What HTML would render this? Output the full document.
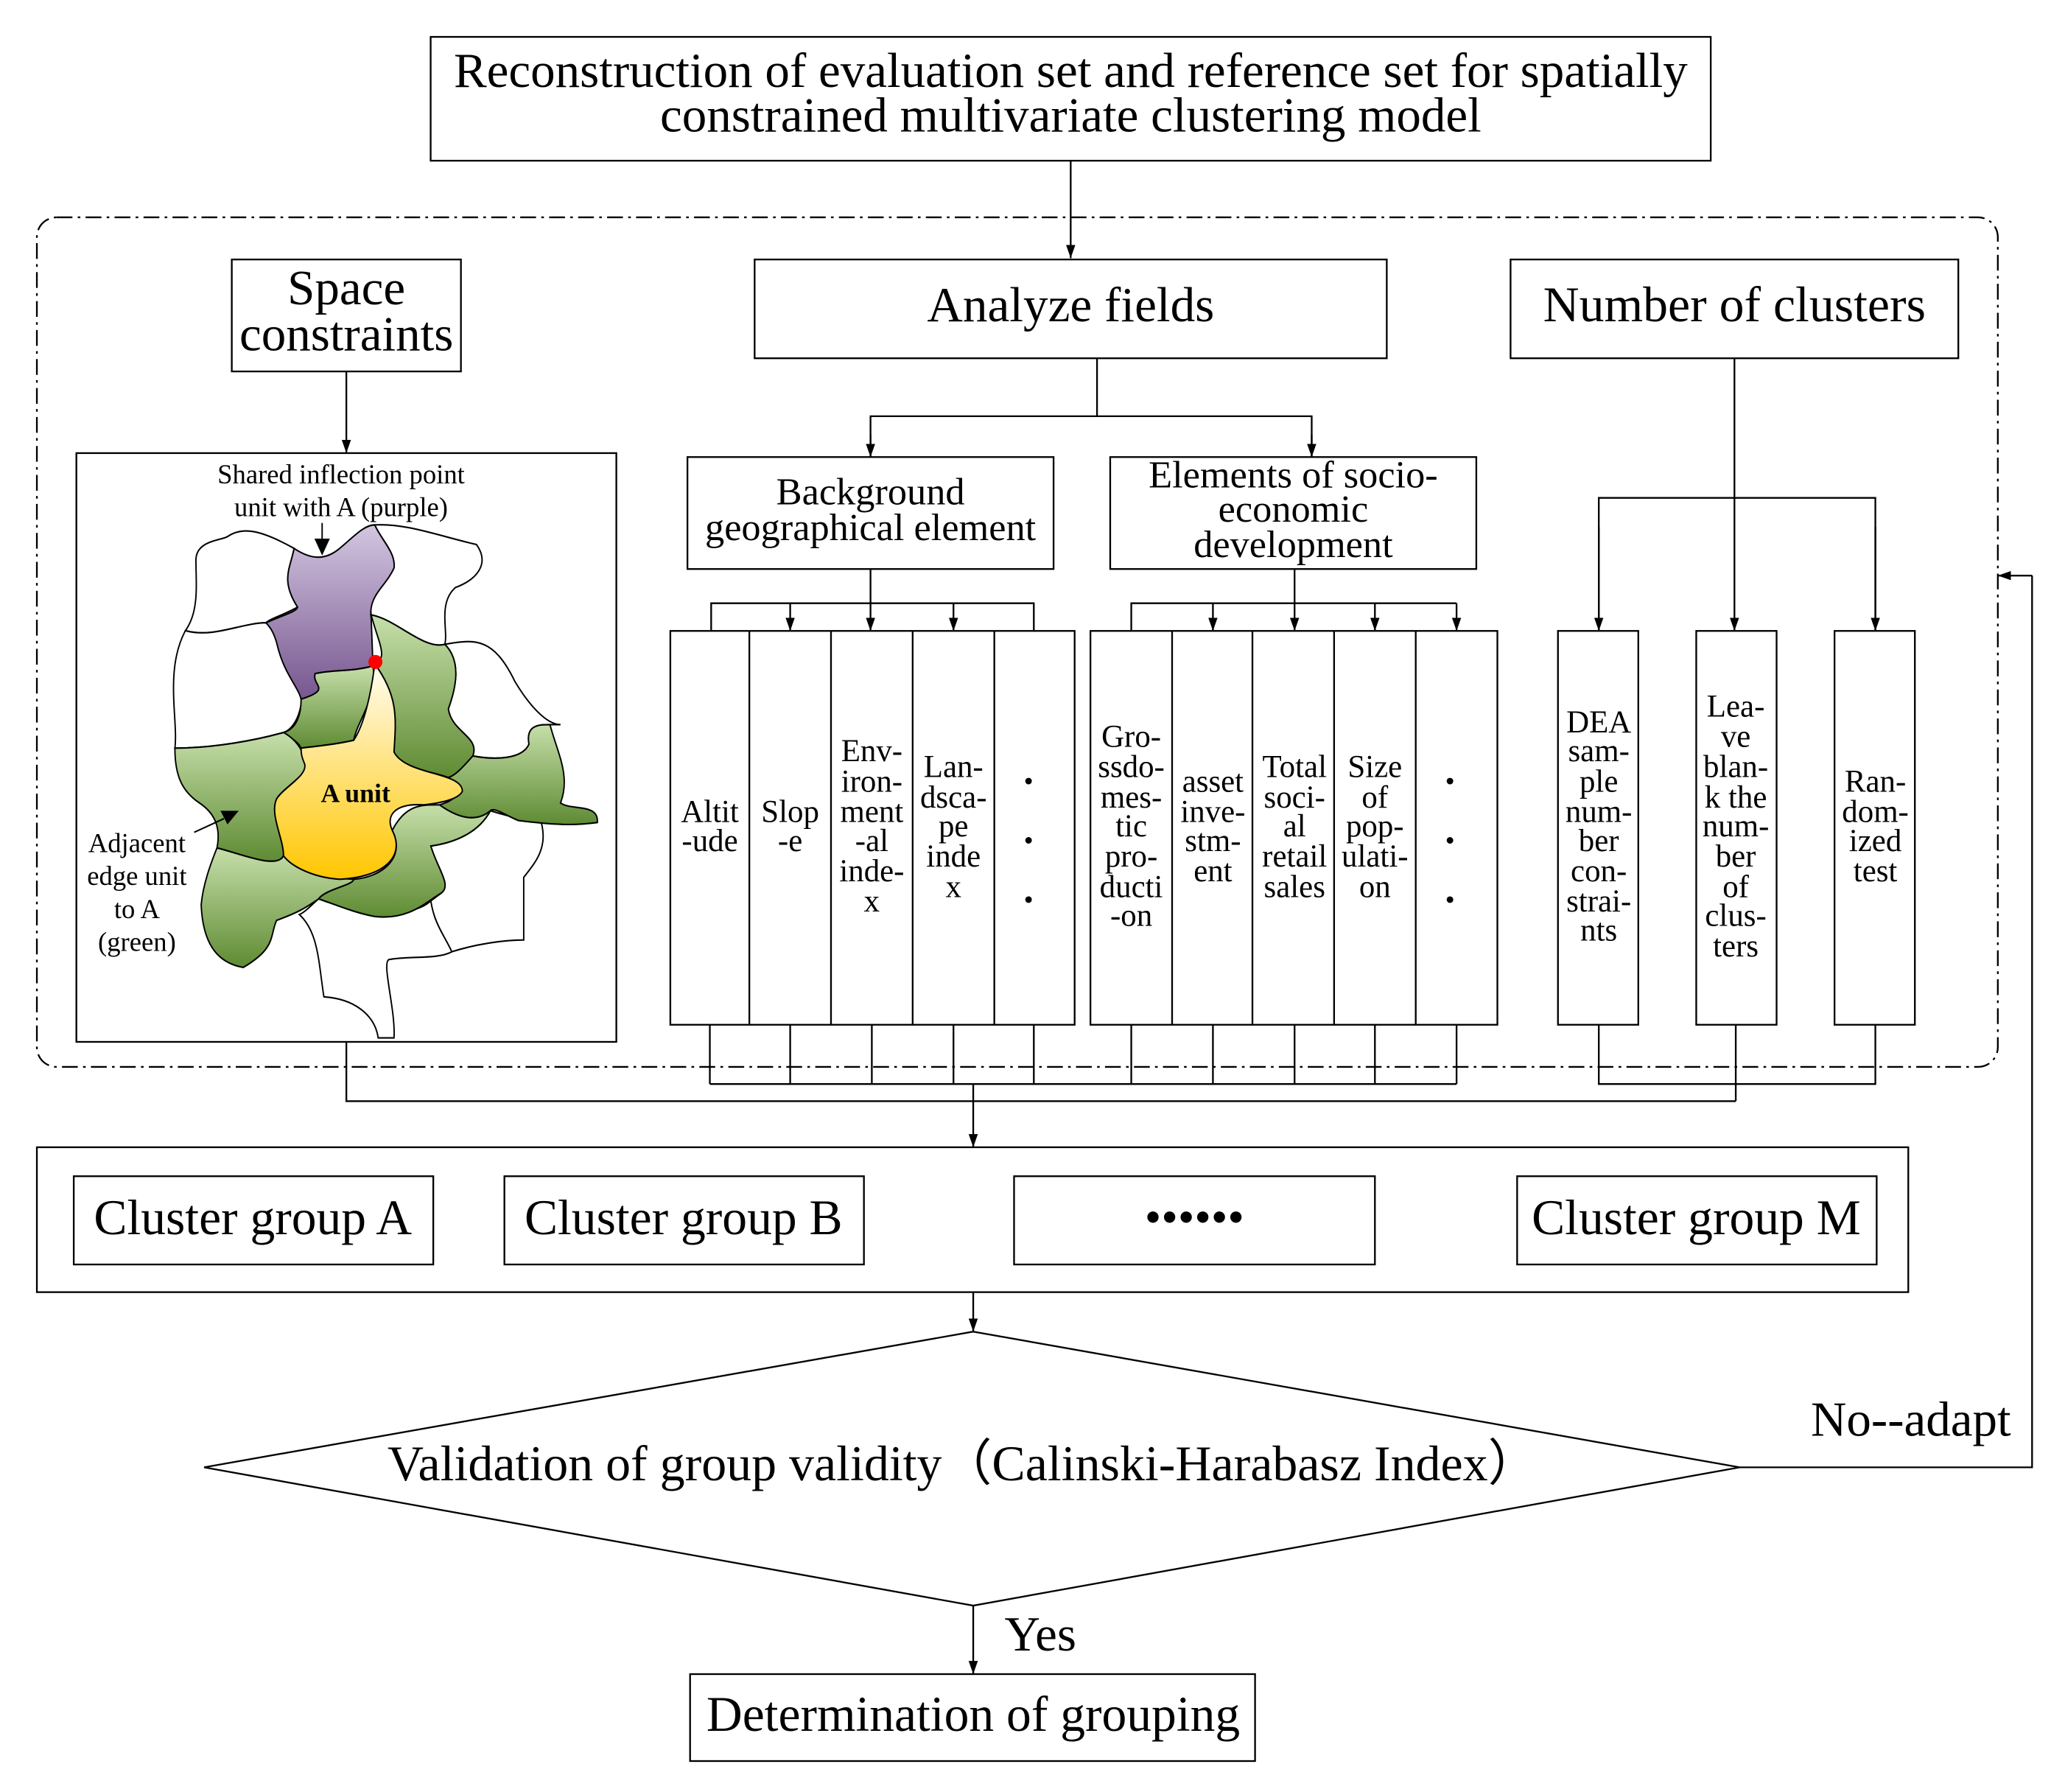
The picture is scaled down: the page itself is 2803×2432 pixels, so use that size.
<!DOCTYPE html>
<html><head><meta charset="utf-8"><style>
html,body{margin:0;padding:0;background:#fff}
svg{display:block}
text{font-family:"Liberation Serif",serif;fill:#000}
</style></head><body>
<svg width="2803" height="2432" viewBox="0 0 1568 1360.5" preserveAspectRatio="none" xmlns="http://www.w3.org/2000/svg">
<defs>
<marker id="ar" viewBox="0 0 10 10" refX="10" refY="5" markerWidth="10" markerHeight="10" markerUnits="userSpaceOnUse" orient="auto"><path d="M0,1.5 L10,5 L0,8.5 Z" fill="#000"/></marker>
<linearGradient id="gg" x1="0" y1="0" x2="0" y2="1"><stop offset="0" stop-color="#c6dfaa"/><stop offset="1" stop-color="#5f8b33"/></linearGradient>
<linearGradient id="gp" x1="0" y1="0" x2="0" y2="1"><stop offset="0" stop-color="#d3c6e0"/><stop offset="1" stop-color="#76568f"/></linearGradient>
<linearGradient id="gy" x1="0" y1="0" x2="0" y2="1"><stop offset="0" stop-color="#fffdf2"/><stop offset="1" stop-color="#ffc600"/></linearGradient>
</defs>
<g fill="none" stroke="#000" stroke-width="1.3">
<rect x="327" y="28" width="972" height="94" fill="#fff"/>
<line x1="813" y1="122" x2="813" y2="196" marker-end="url(#ar)"/>
<rect x="28" y="165" width="1489" height="645" rx="15" stroke-dasharray="12 4 2 4"/>
<rect x="176" y="197" width="174" height="85"/>
<line x1="263" y1="282" x2="263" y2="344" marker-end="url(#ar)"/>
<rect x="58" y="344" width="410" height="447"/>
<rect x="573" y="197" width="480" height="75"/>
<rect x="1147" y="197" width="340" height="75"/>
<polyline points="833,272 833,316"/>
<polyline points="661,347 661,316 996,316 996,347"/>
<line x1="661" y1="330" x2="661" y2="347" marker-end="url(#ar)"/>
<line x1="996" y1="330" x2="996" y2="347" marker-end="url(#ar)"/>
<rect x="522" y="347" width="278" height="85"/>
<rect x="843" y="347" width="278" height="85"/>
<line x1="661" y1="432" x2="661" y2="479" marker-end="url(#ar)"/>
<polyline points="540,479 540,458 785,458 785,479"/>
<line x1="600" y1="458" x2="600" y2="479" marker-end="url(#ar)"/>
<line x1="724" y1="458" x2="724" y2="479" marker-end="url(#ar)"/>
<line x1="983" y1="432" x2="983" y2="479" marker-end="url(#ar)"/>
<polyline points="859,479 859,458 1106,458"/>
<line x1="921" y1="458" x2="921" y2="479" marker-end="url(#ar)"/>
<line x1="1044" y1="458" x2="1044" y2="479" marker-end="url(#ar)"/>
<line x1="1106" y1="458" x2="1106" y2="479" marker-end="url(#ar)"/>
<rect x="509" y="479" width="307" height="299"/>
<line x1="569" y1="479" x2="569" y2="778"/><line x1="631" y1="479" x2="631" y2="778"/><line x1="693" y1="479" x2="693" y2="778"/><line x1="755" y1="479" x2="755" y2="778"/>
<rect x="828" y="479" width="309" height="299"/>
<line x1="890" y1="479" x2="890" y2="778"/><line x1="951" y1="479" x2="951" y2="778"/><line x1="1013" y1="479" x2="1013" y2="778"/><line x1="1075" y1="479" x2="1075" y2="778"/>
<line x1="1317" y1="272" x2="1317" y2="479" marker-end="url(#ar)"/>
<polyline points="1214,479 1214,378 1424,378 1424,479"/>
<line x1="1214" y1="400" x2="1214" y2="479" marker-end="url(#ar)"/>
<line x1="1424" y1="400" x2="1424" y2="479" marker-end="url(#ar)"/>
<rect x="1183" y="479" width="61" height="299"/>
<rect x="1288" y="479" width="61" height="299"/>
<rect x="1393" y="479" width="61" height="299"/>
<path d="M539,778V823 M600,778V823 M662,778V823 M724,778V823 M785,778V823 M859,778V823 M921,778V823 M983,778V823 M1044,778V823 M1106,778V823 M539,823H1106"/>
<path d="M1214,778V823H1424V778 M1318,778V836 M263,791V836H1318"/>
<line x1="739" y1="823" x2="739" y2="871" marker-end="url(#ar)"/>
<rect x="28" y="871" width="1421" height="110"/>
<rect x="56" y="893" width="273" height="67"/>
<rect x="383" y="893" width="273" height="67"/>
<rect x="770" y="893" width="274" height="67"/>
<rect x="1152" y="893" width="273" height="67"/>
<line x1="739" y1="981" x2="739" y2="1011" marker-end="url(#ar)"/>
<polygon points="739,1011 1321,1114 739,1219 155,1114"/>
<polyline points="1321,1114 1543,1114 1543,437"/>
<line x1="1543" y1="437" x2="1517" y2="437" marker-end="url(#ar)"/>
<line x1="739" y1="1219" x2="739" y2="1271" marker-end="url(#ar)"/>
<rect x="524" y="1271" width="429" height="66"/>
</g>
<g transform="translate(55.6,345) scale(0.2662,0.2973)" stroke="#000" stroke-width="4">
<path fill="#fff" d="M350,270 C350,220 420,220 440,210 C480,185 530,190 630,240 C620,290 590,320 640,390 C600,410 560,420 550,430 C480,430 400,470 320,450 C360,400 350,330 350,270 Z"/>
<path fill="#fff" d="M860,180 C950,175 1050,210 1150,230 C1190,280 1150,320 1090,340 C1040,380 1070,450 1060,485 C1000,500 920,420 850,410 C840,360 890,340 915,290 C920,250 880,220 860,180 Z"/>
<path fill="#fff" d="M320,450 C400,470 480,430 550,430 C600,460 610,520 640,560 C670,620 640,700 600,710 C520,730 400,750 290,750 C300,680 260,550 320,450 Z"/>
<path fill="#fff" d="M1060,485 C1150,470 1200,470 1260,580 C1300,640 1350,690 1390,690 L1360,690 C1330,690 1290,690 1300,740 C1280,780 1200,780 1140,770 C1160,720 1080,710 1070,650 C1090,600 1110,530 1060,485 Z"/>
<path fill="#fff" d="M645,1175 C700,1220 700,1300 715,1385 C800,1390 860,1430 870,1490 L915,1490 C920,1420 880,1300 900,1290 C960,1280 1040,1290 1080,1270 C1120,1250 1100,1230 1050,1210 C1020,1180 1030,1150 1020,1140 C960,1190 800,1170 700,1135 C680,1150 660,1170 645,1175 Z"/>
<path fill="#fff" d="M1020,1140 C1030,1200 1060,1230 1080,1270 C1150,1250 1230,1240 1285,1240 L1285,1080 C1320,1040 1360,1000 1330,925 C1270,935 1230,920 1190,910 C1160,960 1100,990 1020,1000 C1040,1060 1080,1100 1050,1120 Z"/>
<path fill="url(#gp)" d="M630,240 C680,270 720,270 760,240 C800,210 830,180 860,180 C880,220 920,250 915,290 C890,340 840,360 850,420 L855,540 C800,555 730,550 690,560 C680,590 740,600 650,625 C640,590 600,560 580,480 C570,450 560,440 550,430 C600,410 640,400 640,390 C590,320 620,290 630,240 Z"/>
<path fill="url(#gg)" d="M650,625 C740,600 680,590 690,560 C730,550 800,555 855,540 C870,620 810,680 800,730 C750,740 700,745 650,750 C640,730 610,720 600,710 C640,700 650,660 650,625 Z"/>
<path fill="url(#gg)" d="M860,535 C900,520 870,480 850,410 C920,420 1000,500 1060,485 C1110,530 1090,600 1070,650 C1080,710 1160,720 1140,770 C1110,800 1090,820 1070,825 C990,800 940,810 915,760 C920,680 930,620 860,535 Z"/>
<path fill="url(#gg)" d="M1140,770 C1200,780 1280,780 1300,740 C1290,690 1330,690 1360,690 C1380,760 1420,820 1390,890 C1420,910 1500,890 1495,940 C1450,945 1400,950 1270,935 C1230,920 1200,900 1190,910 C1150,940 1100,930 1045,895 C1100,880 1110,860 1070,825 C1090,820 1110,800 1140,770 Z"/>
<path fill="url(#gg)" d="M290,750 C400,750 520,730 600,710 C640,730 660,760 665,800 C660,820 590,860 580,880 C560,920 600,980 600,1025 C580,1060 480,1020 410,1005 C420,960 410,920 360,890 C310,860 290,820 290,750 Z"/>
<path fill="url(#gg)" d="M410,1005 C480,1020 580,1060 600,1025 C640,1060 700,1080 800,1085 C800,1100 720,1110 700,1135 C660,1160 640,1170 580,1190 C560,1230 580,1260 485,1310 C420,1300 370,1260 365,1150 C370,1100 390,1050 410,1005 Z"/>
<path fill="url(#gg)" d="M700,1135 C720,1110 800,1100 800,1085 C880,1080 950,1030 910,960 C950,890 1000,895 1045,895 C1100,930 1150,940 1190,910 C1160,960 1100,990 1020,1000 C1040,1060 1080,1100 1050,1120 C1010,1140 960,1190 860,1180 C800,1170 750,1150 700,1135 Z"/>
<path fill="url(#gy)" d="M860,535 C930,620 920,680 915,760 C950,820 1110,810 1110,860 C1100,880 1050,890 1000,895 C920,890 890,920 910,960 C950,1030 880,1080 760,1085 C680,1080 620,1050 600,1025 C600,980 560,920 580,880 C600,850 670,820 660,790 C650,770 650,760 650,750 C700,745 750,740 800,730 C830,690 850,610 860,535 Z"/>
<ellipse cx="862" cy="530" rx="20" ry="18" fill="#f00" stroke="none"/>
<line x1="710" y1="175" x2="710" y2="215"/>
<path d="M688,215 L732,215 L710,258 Z" fill="#000" stroke="none"/>
<line x1="345" y1="965" x2="430" y2="930"/>
<path d="M420,910 L472,910 L440,945 Z" fill="#000" stroke="none"/>
</g>
<text x="259" y="367" font-size="20.5" text-anchor="middle">Shared inflection point</text>
<text x="259" y="392" font-size="20.5" text-anchor="middle">unit with A (purple)</text>
<text x="270" y="609" font-size="20" font-weight="bold" text-anchor="middle">A unit</text>
<g font-size="20.5" text-anchor="middle"><text x="104" y="647">Adjacent</text><text x="104" y="672">edge unit</text><text x="104" y="697">to A</text><text x="104" y="722">(green)</text></g>
<g text-anchor="middle" font-size="37.5">
<text x="813" y="66">Reconstruction of evaluation set and reference set for spatially</text>
<text x="813" y="100">constrained multivariate clustering model</text>
<text x="263" y="231">Space</text><text x="263" y="266">constraints</text>
<text x="813" y="244" font-size="37.6">Analyze fields</text>
<text x="1317" y="244" font-size="37.9">Number of clusters</text>
<text x="192" y="937" font-size="37.8">Cluster group A</text>
<text x="519" y="937" font-size="37.8">Cluster group B</text>
<text x="907" y="936" font-size="36">••••••</text>
<text x="1288" y="937" font-size="37.8">Cluster group M</text>
<text x="731" y="1124" font-size="38">Validation of group validity（Calinski-Harabasz Index）</text>
<text x="1451" y="1090">No--adapt</text>
<text x="790" y="1253">Yes</text>
<text x="739" y="1314" font-size="37.8">Determination of grouping</text>
</g>
<g text-anchor="middle" font-size="29.3">
<text x="661" y="383">Background</text><text x="661" y="410">geographical element</text>
<text x="982" y="370">Elements of socio-</text><text x="982" y="396">economic</text><text x="982" y="423">development</text>
</g>
<g text-anchor="middle" font-size="24">
<text x="539" y="624">Altit</text><text x="539" y="646">-ude</text>
<text x="600" y="624">Slop</text><text x="600" y="646">-e</text>
<text x="662" y="578">Env-</text><text x="662" y="601">iron-</text><text x="662" y="624">ment</text><text x="662" y="646">-al</text><text x="662" y="669">inde-</text><text x="662" y="692">x</text>
<text x="724" y="590">Lan-</text><text x="724" y="613">dsca-</text><text x="724" y="635">pe</text><text x="724" y="658">inde</text><text x="724" y="681">x</text>
<text x="859" y="567">Gro-</text><text x="859" y="590">ssdo-</text><text x="859" y="613">mes-</text><text x="859" y="635">tic</text><text x="859" y="658">pro-</text><text x="859" y="681">ducti</text><text x="859" y="703">-on</text>
<text x="921" y="601">asset</text><text x="921" y="624">inve-</text><text x="921" y="646">stm-</text><text x="921" y="669">ent</text>
<text x="983" y="590">Total</text><text x="983" y="613">soci-</text><text x="983" y="635">al</text><text x="983" y="658">retail</text><text x="983" y="681">sales</text>
<text x="1044" y="590">Size</text><text x="1044" y="613">of</text><text x="1044" y="635">pop-</text><text x="1044" y="658">ulati-</text><text x="1044" y="681">on</text>
<text x="1214" y="556">DEA</text><text x="1214" y="578">sam-</text><text x="1214" y="601">ple</text><text x="1214" y="624">num-</text><text x="1214" y="646">ber</text><text x="1214" y="669">con-</text><text x="1214" y="692">strai-</text><text x="1214" y="714">nts</text>
<text x="1318" y="544">Lea-</text><text x="1318" y="567">ve</text><text x="1318" y="590">blan-</text><text x="1318" y="613">k the</text><text x="1318" y="635">num-</text><text x="1318" y="658">ber</text><text x="1318" y="681">of</text><text x="1318" y="703">clus-</text><text x="1318" y="726">ters</text>
<text x="1424" y="601">Ran-</text><text x="1424" y="624">dom-</text><text x="1424" y="646">ized</text><text x="1424" y="669">test</text>
</g>
<g fill="#000">
<circle cx="781" cy="593" r="2.5"/><circle cx="781" cy="638" r="2.5"/><circle cx="781" cy="683" r="2.5"/>
<circle cx="1101" cy="593" r="2.5"/><circle cx="1101" cy="638" r="2.5"/><circle cx="1101" cy="683" r="2.5"/>
</g>
</svg>
</body></html>
